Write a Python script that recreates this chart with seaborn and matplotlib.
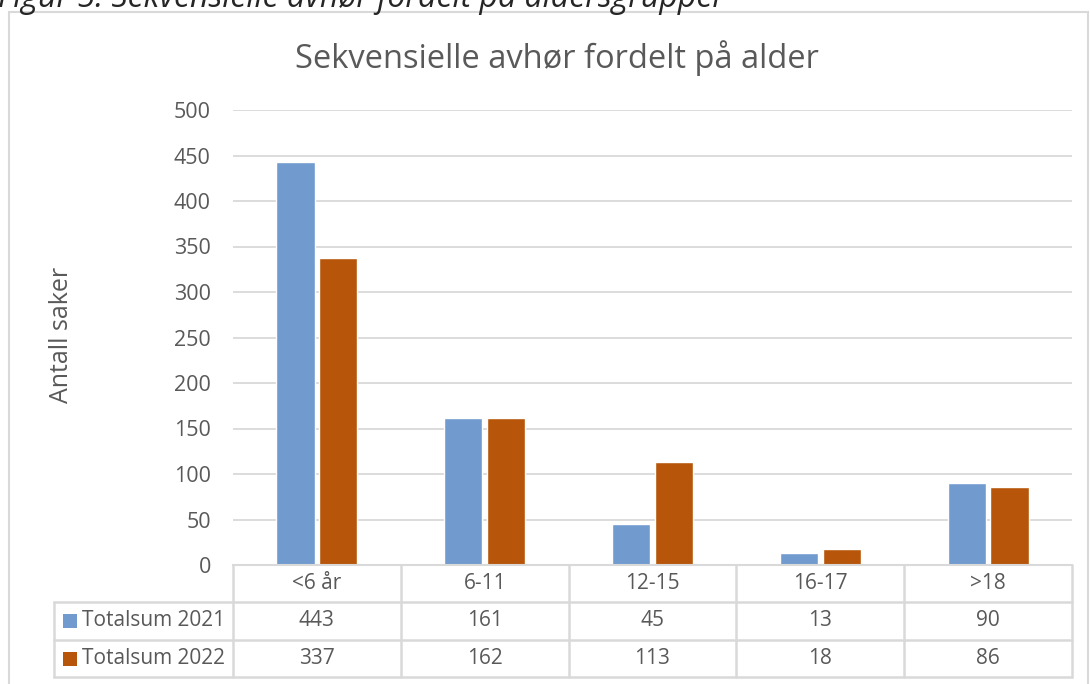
"""
Sekvensielle avhør fordelt på alder - grouped bars with data table.
"""

import matplotlib.pyplot as plt
import pandas as pd
import seaborn as sns
from matplotlib.patches import Rectangle
from matplotlib.transforms import blended_transform_factory

# Data
categories = ["<6 år", "6-11", "12-15", "16-17", ">18"]
series_names = ["Totalsum 2021", "Totalsum 2022"]
values_2021 = [443, 161, 45, 13, 90]
values_2022 = [337, 162, 113, 18, 86]
y_ticks = [0, 50, 100, 150, 200, 250, 300, 350, 400, 450, 500]

colors = ["#719bce", "#b7560a"]
grid_color = "#d9d9d9"
text_color = "#595959"
fs = 15

sns.set_style("white")
plt.rcParams["font.family"] = ["Open Sans", "DejaVu Sans"]

df = pd.DataFrame(
    {
        "alder": categories * 2,
        "serie": [series_names[0]] * len(categories) + [series_names[1]] * len(categories),
        "antall": values_2021 + values_2022,
    }
)

fig = plt.figure(figsize=(10.9, 6.84), dpi=100)
ax = fig.add_axes([233 / 1090, 1 - 565 / 684, 839 / 1090, 455 / 684])

sns.barplot(
    data=df, x="alder", y="antall", hue="serie", order=categories, hue_order=series_names,
    palette=colors, width=0.51, gap=0.11, ax=ax, legend=False, saturation=1,
)

ax.set_ylim(0, 500)
ax.set_xlim(-0.5, len(categories) - 0.5)
ax.set_yticks(y_ticks)
ax.set_yticklabels([str(t) for t in y_ticks], fontsize=fs + 0.5, color=text_color)
ax.tick_params(axis="y", length=0, pad=16)
ax.set_xticks([])
ax.set_xlabel("")
ax.set_ylabel("")
ax.yaxis.grid(True, color=grid_color, linewidth=1.3)
ax.set_axisbelow(True)
for side in ["top", "right", "left"]:
    ax.spines[side].set_visible(False)
ax.spines["bottom"].set_color(grid_color)
ax.spines["bottom"].set_linewidth(1.5)

# Titles
fig.text(557 / 1090, 1 - 58 / 684, "Sekvensielle avhør fordelt på alder",
         ha="center", va="center", fontsize=23.5, color=text_color)
fig.text(62 / 1090, 1 - 335 / 684, "Antall saker", rotation=90,
         ha="center", va="center", fontsize=18, color=text_color)
fig.text(-2 / 1090, 1 - 7 / 684, "Figur 5: Sekvensielle avhør fordelt på aldersgrupper",
         ha="left", va="baseline", fontsize=23, style="italic", color="#262626")

# Outer chart border
fig.add_artist(Rectangle((9 / 1090, -0.05), 1079 / 1090, 1.05 - 12 / 684, transform=fig.transFigure,
                         fill=False, edgecolor=grid_color, linewidth=1.5))

# Data table below the axes
trans = blended_transform_factory(ax.transData, ax.transAxes)
row_edges = [0, -37 / 455, -75 / 455, -112 / 455]
legend_left = (54 - 233) / 839
line_kw = dict(color=grid_color, linewidth=1.8, clip_on=False)

for i in range(len(categories) + 1):
    ax.plot([i - 0.5, i - 0.5], [row_edges[0], row_edges[-1]], transform=trans, **line_kw)
for y in row_edges[1:]:
    ax.plot([legend_left, 1], [y, y], transform=ax.transAxes, **line_kw)
ax.plot([legend_left, legend_left], [row_edges[1], row_edges[-1]], transform=ax.transAxes, **line_kw)

for i, cat in enumerate(categories):
    ymid = (row_edges[0] + row_edges[1]) / 2
    ax.text(i, ymid, cat, transform=trans, ha="center", va="center", fontsize=fs, color=text_color)
    for r, vals in enumerate([values_2021, values_2022]):
        ymid = (row_edges[r + 1] + row_edges[r + 2]) / 2
        ax.text(i, ymid, str(vals[i]), transform=trans, ha="center", va="center",
                fontsize=fs, color=text_color)

for r, name in enumerate(series_names):
    ymid = (row_edges[r + 1] + row_edges[r + 2]) / 2
    sq = 14 / 839
    ax.add_patch(Rectangle(((63 - 233) / 839, ymid - 7 / 455), sq, 14 / 455, transform=ax.transAxes,
                           facecolor=colors[r], edgecolor="none", clip_on=False))
    ax.text((82 - 233) / 839, ymid, name, transform=ax.transAxes, ha="left", va="center",
            fontsize=fs, color=text_color)

plt.savefig("out.png", dpi=100)
plt.close()
